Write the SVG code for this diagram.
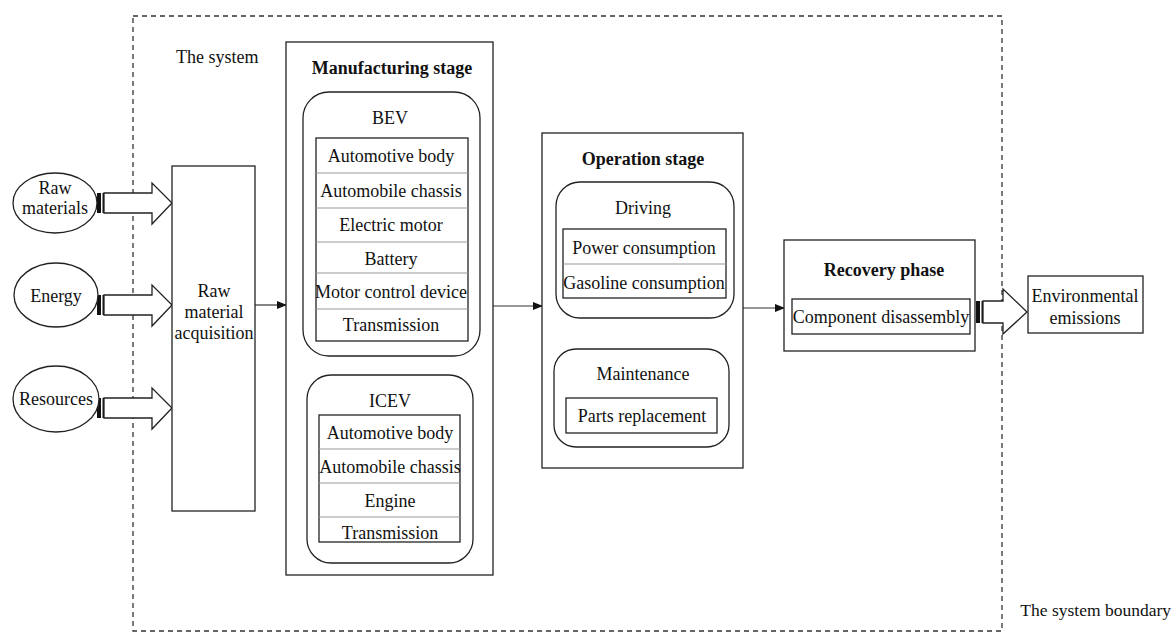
<svg xmlns="http://www.w3.org/2000/svg" width="1174" height="632" viewBox="0 0 1174 632">
<style>
text{font-family:"Liberation Serif","Times New Roman",serif;font-size:18px;fill:#111;}
.c{text-anchor:middle;}
.b{font-weight:bold;}
.box{fill:#fff;stroke:#222;stroke-width:1.3;}
.rbox{fill:#fff;stroke:#222;stroke-width:1.3;}
.tbl{fill:none;stroke:#222;stroke-width:1.3;}
.sep{stroke:#999;stroke-width:1;}
.ell{fill:#fff;stroke:#222;stroke-width:1.3;}
.conn{stroke:#333;stroke-width:1.2;fill:none;}
.blk{fill:#fff;stroke:#222;stroke-width:1.3;}
.bnd{fill:none;stroke:#333;stroke-width:1.3;stroke-dasharray:5 4;}
</style>
<defs>
<marker id="ah" markerWidth="10" markerHeight="8" refX="9" refY="4" orient="auto" markerUnits="userSpaceOnUse">
<path d="M0,0 L10,4 L0,8 Z" fill="#111"/>
</marker>
<g id="bigArrow">
<rect x="0" y="-10" width="4" height="20" fill="#111"/>
<rect x="5.5" y="-10" width="1.5" height="20" fill="#111"/>
<path class="blk" d="M7,-10 H55 V-20 L75,0 L55,21 V10 H7 Z"/>
</g>
</defs>

<g id="boundary">
<rect class="bnd" x="133" y="16" width="869" height="615"/>
<text x="176" y="63">The system</text>
<text x="1171" y="616" text-anchor="end" style="font-size:17.5px">The system boundary</text>
</g>

<g id="connectors">
<use href="#bigArrow" x="97" y="203"/>
<use href="#bigArrow" x="97" y="305"/>
<use href="#bigArrow" x="97" y="408"/>
<g transform="translate(976,312)">
<rect x="0" y="-11" width="4" height="22" fill="#111"/>
<rect x="5.5" y="-11" width="1.5" height="22" fill="#111"/>
<path class="blk" d="M7,-11 H27 V-23 L51,0 L27,22 V11 H7 Z"/>
</g>
<line class="conn" x1="255" y1="305" x2="286" y2="305" marker-end="url(#ah)"/>
<line class="conn" x1="493" y1="306" x2="542" y2="306" marker-end="url(#ah)"/>
<line class="conn" x1="743" y1="308" x2="784" y2="308" marker-end="url(#ah)"/>
</g>

<g id="raw-materials">
<ellipse class="ell" cx="55" cy="203" rx="42" ry="30"/>
<text class="c" x="55" y="194">Raw</text>
<text class="c" x="55" y="214">materials</text>
</g>
<g id="energy">
<ellipse class="ell" cx="56" cy="295" rx="42" ry="32"/>
<text class="c" x="56" y="302">Energy</text>
</g>
<g id="resources">
<ellipse class="ell" cx="56" cy="399" rx="43" ry="33"/>
<text class="c" x="56" y="405">Resources</text>
</g>

<g id="raw-material-acquisition">
<rect class="box" x="172" y="166" width="83" height="345"/>
<text class="c" x="214" y="297">Raw</text>
<text class="c" x="214" y="318">material</text>
<text class="c" x="214" y="339">acquisition</text>
</g>

<g id="manufacturing-stage">
<rect class="box" x="286" y="42" width="207" height="533"/>
<text class="c b" x="392" y="74">Manufacturing stage</text>
<g id="bev">
<rect class="rbox" x="303" y="92" width="177" height="264" rx="26" ry="26"/>
<text class="c" x="390" y="124">BEV</text>
<rect class="tbl" x="316" y="138" width="152" height="203"/>
<line class="sep" x1="316" y1="173" x2="468" y2="173"/>
<line class="sep" x1="316" y1="208" x2="468" y2="208"/>
<line class="sep" x1="316" y1="242" x2="468" y2="242"/>
<line class="sep" x1="316" y1="273" x2="468" y2="273"/>
<line class="sep" x1="316" y1="309" x2="468" y2="309"/>
<text class="c" x="391" y="162">Automotive body</text>
<text class="c" x="391" y="197">Automobile chassis</text>
<text class="c" x="391" y="231">Electric motor</text>
<text class="c" x="391" y="265">Battery</text>
<text class="c" x="391" y="298">Motor control device</text>
<text class="c" x="391" y="331">Transmission</text>
</g>
<g id="icev">
<rect class="rbox" x="307" y="375" width="166" height="188" rx="24" ry="24"/>
<text class="c" x="390" y="407">ICEV</text>
<rect class="tbl" x="319" y="415" width="141" height="127"/>
<line class="sep" x1="319" y1="449" x2="460" y2="449"/>
<line class="sep" x1="319" y1="483" x2="460" y2="483"/>
<line class="sep" x1="319" y1="517" x2="460" y2="517"/>
<text class="c" x="390" y="439">Automotive body</text>
<text class="c" x="390" y="473">Automobile chassis</text>
<text class="c" x="390" y="507">Engine</text>
<text class="c" x="390" y="539">Transmission</text>
</g>
</g>

<g id="operation-stage">
<rect class="box" x="542" y="133" width="201" height="335"/>
<text class="c b" x="643" y="165">Operation stage</text>
<g id="driving">
<rect class="rbox" x="556" y="182" width="178" height="136" rx="24" ry="24"/>
<text class="c" x="643" y="214">Driving</text>
<rect class="tbl" x="563" y="229" width="163" height="69"/>
<line class="sep" x1="563" y1="264" x2="726" y2="264"/>
<text class="c" x="644" y="254">Power consumption</text>
<text class="c" x="644" y="289">Gasoline consumption</text>
</g>
<g id="maintenance">
<rect class="rbox" x="554" y="349" width="175" height="98" rx="22" ry="22"/>
<text class="c" x="643" y="380">Maintenance</text>
<rect class="tbl" x="566" y="398" width="151" height="35"/>
<text class="c" x="642" y="422">Parts replacement</text>
</g>
</g>

<g id="recovery-phase">
<rect class="box" x="784" y="240" width="191" height="111"/>
<text class="c b" x="884" y="276">Recovery phase</text>
<rect class="tbl" x="792" y="299" width="178" height="35"/>
<text class="c" x="881" y="323">Component disassembly</text>
</g>

<g id="environmental-emissions">
<rect class="box" x="1028" y="276" width="115" height="57"/>
<text class="c" x="1085" y="302">Environmental</text>
<text class="c" x="1085" y="324">emissions</text>
</g>
</svg>
